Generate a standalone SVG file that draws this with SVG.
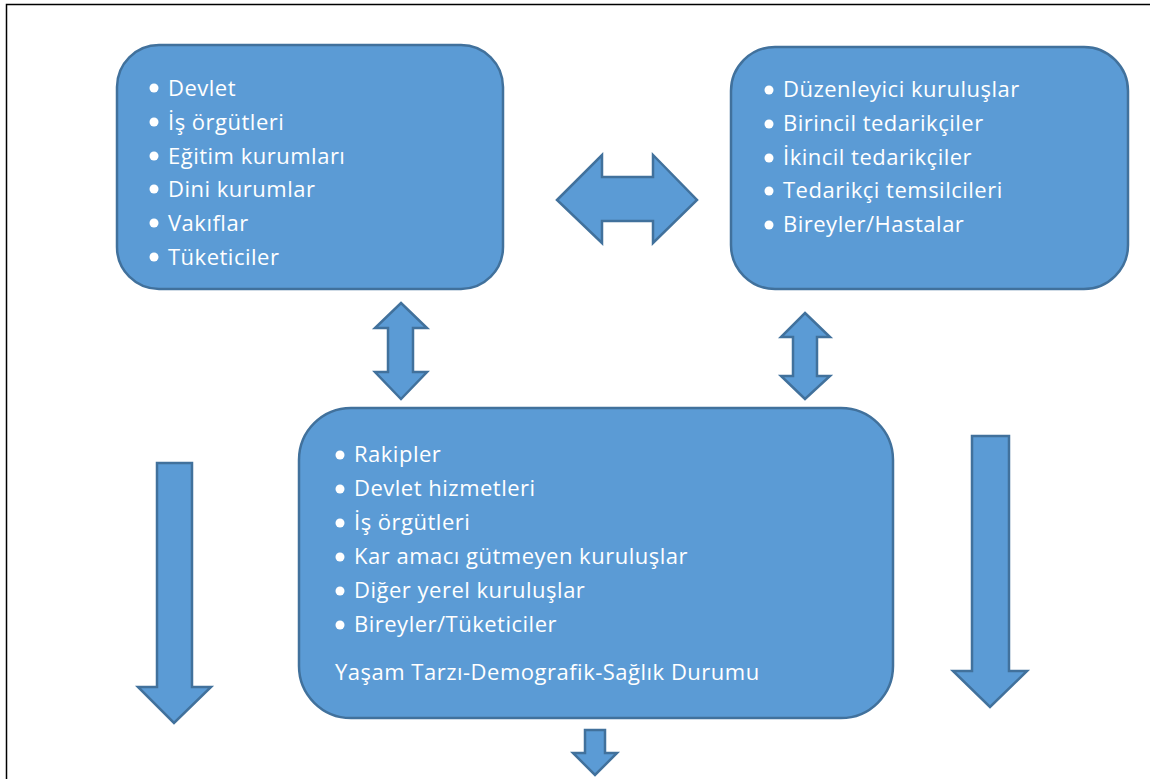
<svg xmlns="http://www.w3.org/2000/svg" width="1150" height="779" viewBox="0 0 1150 779">
<style>
.shape{fill:#5B9BD5;stroke:#41719C;stroke-width:2.5;stroke-linejoin:miter}
.t{font-family:"Open Sans","Noto Sans",sans-serif;font-size:22px;letter-spacing:0.5px;fill:#fff}
.b{fill:#fff}
</style>
<rect x="0" y="0" width="1150" height="779" fill="#fff"/>
<rect x="6.5" y="4.5" width="1160" height="800" fill="none" stroke="#000" stroke-width="1.5"/>
<g id="connectors">
<path class="shape" d="M557,200 L602,155 L602,177 L653,177 L653,155 L697,200 L653,243 L653,221 L602,221 L602,243 Z"/>
<path class="shape" d="M401,303 L427,328 L413,328 L413,372 L427,372 L401,399 L375,372 L388,372 L388,328 L375,328 Z"/>
<path class="shape" d="M805,313 L830,337 L817,337 L817,376 L830,376 L805,399 L781,376 L793,376 L793,337 L781,337 Z"/>
<path class="shape" d="M157,463 L192,463 L192,687 L211,687 L174,723 L138,687 L157,687 Z"/>
<path class="shape" d="M972,436 L1009,436 L1009,671 L1027,671 L990,707 L953,671 L972,671 Z"/>
<path class="shape" d="M585,730 L605,730 L605,753 L617,753 L595,775 L573,753 L585,753 Z"/>
</g>
<g id="node1">
<rect class="shape" x="117" y="45" width="386" height="244" rx="42" ry="42"/>
<circle class="b" cx="154" cy="88" r="4.5"/><text class="t" x="168" y="96">Devlet</text>
<circle class="b" cx="154" cy="122" r="4.5"/><text class="t" x="168" y="130">İş örgütleri</text>
<circle class="b" cx="154" cy="156" r="4.5"/><text class="t" x="168" y="164">Eğitim kurumları</text>
<circle class="b" cx="154" cy="189" r="4.5"/><text class="t" x="168" y="197">Dini kurumlar</text>
<circle class="b" cx="154" cy="223" r="4.5"/><text class="t" x="168" y="231">Vakıflar</text>
<circle class="b" cx="154" cy="257" r="4.5"/><text class="t" x="168" y="265">Tüketiciler</text>
</g>
<g id="node2">
<rect class="shape" x="731" y="47" width="397" height="242" rx="44" ry="44"/>
<circle class="b" cx="769" cy="90" r="4.5"/><text class="t" x="783" y="97">Düzenleyici kuruluşlar</text>
<circle class="b" cx="769" cy="124" r="4.5"/><text class="t" x="783" y="131">Birincil tedarikçiler</text>
<circle class="b" cx="769" cy="158" r="4.5"/><text class="t" x="783" y="165">İkincil tedarikçiler</text>
<circle class="b" cx="769" cy="191" r="4.5"/><text class="t" x="783" y="198">Tedarikçi temsilcileri</text>
<circle class="b" cx="769" cy="225" r="4.5"/><text class="t" x="783" y="232">Bireyler/Hastalar</text>
</g>
<g id="node3">
<rect class="shape" x="299" y="408" width="594" height="310" rx="52" ry="52"/>
<circle class="b" cx="340" cy="455" r="4.5"/><text class="t" x="354" y="462">Rakipler</text>
<circle class="b" cx="340" cy="489" r="4.5"/><text class="t" x="354" y="496">Devlet hizmetleri</text>
<circle class="b" cx="340" cy="523" r="4.5"/><text class="t" x="354" y="530">İş örgütleri</text>
<circle class="b" cx="340" cy="557" r="4.5"/><text class="t" x="354" y="564">Kar amacı gütmeyen kuruluşlar</text>
<circle class="b" cx="340" cy="591" r="4.5"/><text class="t" x="354" y="598">Diğer yerel kuruluşlar</text>
<circle class="b" cx="340" cy="625" r="4.5"/><text class="t" x="354" y="632">Bireyler/Tüketiciler</text>
<text class="t" x="335" y="680">Yaşam Tarzı-Demografik-Sağlık Durumu</text>
</g>
</svg>
